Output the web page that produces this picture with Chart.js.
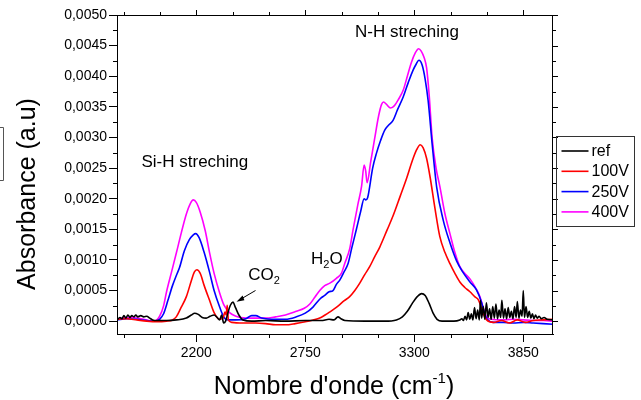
<!DOCTYPE html>
<html>
<head>
<meta charset="utf-8">
<title>FTIR Absorbance</title>
<script src="https://cdn.jsdelivr.net/npm/chart.js"></script>
<style>
  body { margin: 0; background: #fff; }
  #wrap { width: 641px; height: 400px; }
</style>
</head>
<body>
<div id="wrap"><canvas id="ftirChart" width="641" height="400"></canvas></div>
<script>
// axis ticks
const xTicks = [2200, 2750, 3300, 3850];
const yTicks = [0, 0.0005, 0.001, 0.0015, 0.002, 0.0025, 0.003, 0.0035, 0.004, 0.0045, 0.005];

const seriesNames = ['ref', '100V', '250V', '400V'];
const seriesColors = ['#000000', '#ff0000', '#0000ff', '#ff00ff'];

// [wavenumber, absorbance]
const ref = [
  [1800, 0.00002], [1815, 0.00006], [1825, 0.00004], [1835, 0.00009], [1845, 0.00005],
  [1855, 0.0001], [1865, 0.00006], [1875, 0.00009], [1885, 0.00007], [1895, 0.0001],
  [1905, 0.00007], [1920, 0.00009], [1935, 0.00007], [1950, 0.00008], [1965, 0.00005],
  [1980, 0.00002], [2000, 0.00001], [2050, 0.00001], [2100, 0.00002], [2150, 0.00005],
  [2175, 0.0001], [2192, 0.00013], [2210, 0.00011], [2230, 0.00006], [2250, 0.00005],
  [2270, 0.00008], [2290, 0.0001], [2305, 0.00006], [2318, 0.00002], [2328, 0.0001],
  [2338, -0.00003], [2348, 0.0], [2360, 0.00014], [2372, 0.00026], [2385, 0.00031],
  [2398, 0.00022], [2415, 0.0001], [2435, 0.00002], [2480, 0.0], [2550, 0.00001],
  [2650, 0.0], [2750, 0.00001], [2830, 0.00001], [2870, 0.00003], [2895, 0.00002],
  [2915, 0.00007], [2930, 0.00004], [2950, 0.00001], [3050, 0.0], [3150, 0.0],
  [3210, 0.00002], [3240, 0.00007], [3265, 0.00016], [3290, 0.00029], [3315, 0.0004],
  [3337, 0.00045], [3355, 0.00042], [3375, 0.00029], [3395, 0.00013], [3415, 0.00003],
  [3440, 0.0], [3500, 0.0], [3530, 0.00002], [3540, 0.00004], [3548, 0.00001],
  [3556, 0.00008], [3564, 0.00002], [3572, 0.00014], [3580, 0.00003], [3588, 0.00012],
  [3596, 0.00002], [3604, 0.00022], [3612, 0.00004], [3620, 0.00018], [3628, 0.00002],
  [3634, 0.00034], [3640, 0.00005], [3648, 0.00024], [3656, 0.00003], [3664, 0.0003],
  [3672, 0.00006], [3680, 0.0002], [3688, 0.00003], [3696, 0.00024], [3704, 0.00005],
  [3712, 0.00028], [3720, 0.00004], [3728, 0.00018], [3736, 0.00006], [3742, 0.00034],
  [3750, 0.00005], [3758, 0.0002], [3766, 0.00004], [3774, 0.00022], [3782, 0.00006],
  [3790, 0.00016], [3798, 0.00004], [3806, 0.00024], [3814, 0.00006], [3820, 0.00032],
  [3828, 0.00005], [3836, 0.00018], [3844, 0.00008], [3850, 0.0005], [3856, 0.00006],
  [3864, 0.00024], [3872, 0.00006], [3880, 0.00016], [3888, 0.00005], [3896, 0.00012],
  [3904, 0.00004], [3912, 0.0001], [3920, 0.00005], [3930, 0.00008], [3940, 0.00004],
  [3955, 0.00006], [3970, 0.00003], [4000, 0.00002]
];

const v100 = [
  [1800, 0.00003], [1850, 0.00004], [1900, 0.00002], [1950, 0.0], [2000, -0.00001],
  [2050, 0.0], [2080, 0.00002], [2099, 0.00007], [2120, 0.0002], [2150, 0.0004],
  [2175, 0.00066], [2190, 0.0008], [2203, 0.00084], [2220, 0.00078], [2240, 0.00058],
  [2267, 0.00034], [2290, 0.00014], [2318, 0.00003], [2335, 0.00005], [2345, 0.00015],
  [2351, 0.0001], [2356, 0.00026], [2362, 0.00002], [2380, -0.00002], [2420, -0.00003],
  [2500, -0.00003], [2550, -0.00004], [2600, -0.00006], [2650, -0.00006], [2700, -0.00004],
  [2750, -0.00001], [2790, 0.00002], [2823, 0.00005], [2850, 0.0001], [2874, 0.00015],
  [2905, 0.00022], [2924, 0.00027], [2945, 0.00033], [2974, 0.0004], [3000, 0.0005],
  [3025, 0.00062], [3050, 0.00076], [3075, 0.00089], [3100, 0.00105], [3126, 0.00121],
  [3163, 0.00149], [3193, 0.00172], [3230, 0.00205], [3261, 0.00233], [3290, 0.00262],
  [3312, 0.0028], [3330, 0.00288], [3345, 0.00283], [3362, 0.00266], [3380, 0.00235],
  [3404, 0.00185], [3429, 0.00138], [3455, 0.00112], [3480, 0.00094], [3505, 0.00078],
  [3530, 0.00064], [3555, 0.00055], [3581, 0.00048], [3605, 0.0004], [3625, 0.00034],
  [3645, 0.00015], [3665, 0.00002], [3700, -0.00002], [3740, 0.00001], [3780, -0.00003],
  [3820, 0.00002], [3860, -0.00002], [3900, 0.00001], [3950, 0.00002], [4000, 0.00003]
];

const v250 = [
  [1800, 0.00002], [1850, 0.00004], [1900, 0.00003], [1950, 0.00001], [1990, 0.0],
  [2015, 0.00003], [2035, 0.00012], [2057, 0.00034], [2080, 0.00058], [2100, 0.00075],
  [2116, 0.00088], [2140, 0.00115], [2165, 0.00133], [2185, 0.00141], [2197, 0.00143],
  [2215, 0.00136], [2240, 0.00112], [2267, 0.0008], [2290, 0.0005], [2318, 0.00023],
  [2340, 0.00006], [2360, 0.00002], [2400, 0.00002], [2450, 0.00004], [2480, 0.00009],
  [2500, 0.00009], [2530, 0.00005], [2600, 0.00003], [2650, 0.00003], [2705, 0.00007],
  [2750, 0.00013], [2789, 0.00023], [2815, 0.00033], [2830, 0.00038], [2848, 0.00042],
  [2870, 0.00048], [2890, 0.0005], [2907, 0.0006], [2924, 0.00067], [2945, 0.0008],
  [2966, 0.00094], [2985, 0.0012], [3008, 0.0015], [3030, 0.0018], [3047, 0.002],
  [3055, 0.00198], [3065, 0.00202], [3090, 0.0025], [3109, 0.00274], [3130, 0.00295],
  [3151, 0.00312], [3170, 0.0032], [3193, 0.00328], [3215, 0.00345], [3244, 0.00366],
  [3270, 0.0039], [3294, 0.0041], [3310, 0.0042], [3323, 0.00426], [3340, 0.00418],
  [3355, 0.00395], [3370, 0.0036], [3390, 0.0029], [3413, 0.00219], [3446, 0.00165],
  [3480, 0.00128], [3514, 0.00098], [3545, 0.0008], [3581, 0.00064], [3614, 0.00051],
  [3640, 0.0003], [3655, 0.00012], [3668, 0.00003], [3700, -0.00002], [3750, -0.00002],
  [3800, -0.00003], [3850, -0.00002], [3900, -0.00003], [3950, -0.00004], [4000, -0.00005]
];

const v400 = [
  [1800, 0.00003], [1830, 0.00005], [1870, 0.00006], [1920, 0.00004], [1960, 0.00001],
  [1990, 0.0], [2015, 0.00008], [2035, 0.00025], [2050, 0.00048], [2075, 0.0008],
  [2100, 0.00112], [2125, 0.00145], [2150, 0.00175], [2170, 0.00192], [2185, 0.00198],
  [2200, 0.00194], [2220, 0.00178], [2245, 0.00148], [2267, 0.00112], [2290, 0.00078],
  [2318, 0.00046], [2340, 0.00026], [2368, 0.00014], [2400, 0.00008], [2450, 0.00005],
  [2500, 0.00005], [2550, 0.00005], [2600, 0.00007], [2650, 0.0001], [2705, 0.00016],
  [2745, 0.00021], [2773, 0.00028], [2800, 0.0004], [2823, 0.0005], [2848, 0.00058],
  [2874, 0.00062], [2907, 0.0007], [2932, 0.00078], [2950, 0.00095], [2974, 0.00118],
  [2991, 0.00149], [3015, 0.0019], [3034, 0.0022], [3047, 0.00255], [3055, 0.00245],
  [3062, 0.00226], [3080, 0.0026], [3100, 0.00298], [3120, 0.00335], [3135, 0.00354],
  [3145, 0.00358], [3160, 0.00354], [3180, 0.00348], [3200, 0.00352], [3220, 0.00362],
  [3244, 0.00377], [3265, 0.004], [3285, 0.00422], [3305, 0.00438], [3322, 0.00445],
  [3335, 0.00441], [3350, 0.0043], [3362, 0.00414], [3375, 0.0037], [3390, 0.003],
  [3410, 0.0025], [3429, 0.0022], [3455, 0.00175], [3480, 0.00143], [3505, 0.00112],
  [3530, 0.00089], [3555, 0.00078], [3581, 0.00069], [3610, 0.00054], [3631, 0.0004],
  [3650, 0.0002], [3665, 0.00007], [3690, 0.00003], [3740, 0.00002], [3800, 0.00003],
  [3850, 0.00002], [3900, 0.00001], [3950, 0.00001], [4000, 0.0]
];

const FONT = "'Liberation Sans', Arial, sans-serif";
Chart.defaults.font.family = FONT;
Chart.defaults.color = '#000';

const toPoints = arr => arr.map(([x, y]) => ({ x, y }));
const allSeries = [ref, v100, v250, v400];

// frame, minor ticks, titles, annotations and legend box
const decorations = {
  id: 'decorations',
  afterDraw(chart) {
    const { ctx, chartArea: a, scales: { x, y } } = chart;
    ctx.save();
    ctx.strokeStyle = '#000';
    ctx.lineWidth = 1;
    ctx.strokeRect(a.left + 0.5, a.top + 0.5, a.right - a.left - 1, a.bottom - a.top);

    ctx.beginPath();
    // x minor ticks (thirds of the major step) + top mirror
    const xStep = xTicks[1] - xTicks[0];
    for (let v = xTicks[0] - xStep; v <= x.max; v += xStep / 3) {
      if (v < x.min) continue;
      const px = Math.round(x.getPixelForValue(v)) + 0.5;
      const major = xTicks.includes(Math.round(v));
      ctx.moveTo(px, a.bottom); ctx.lineTo(px, a.bottom + (major ? 8 : 4));
      ctx.moveTo(px, a.top); ctx.lineTo(px, a.top - (major ? 5 : 3));
    }
    // y minor ticks + right mirror
    const yStep = yTicks[1] - yTicks[0];
    for (let i = 0; i <= (yTicks.length - 1) * 2; i++) {
      const v = yTicks[0] + i * yStep / 2;
      const py = Math.round(y.getPixelForValue(v)) + 0.5;
      const major = i % 2 === 0;
      if (!major) { ctx.moveTo(a.left, py); ctx.lineTo(a.left - 4, py); }
      ctx.moveTo(a.right, py); ctx.lineTo(a.right + (major ? 5 : 3), py);
    }
    ctx.stroke();

    // axis titles
    ctx.fillStyle = '#000';
    ctx.textBaseline = 'alphabetic';
    ctx.textAlign = 'left';
    ctx.font = '25px ' + FONT;
    const t1 = "Nombre d'onde (cm", t3 = ')';
    const w1 = ctx.measureText(t1).width, w3 = ctx.measureText(t3).width;
    ctx.font = '15px ' + FONT;
    const w2 = ctx.measureText('-1').width;
    let tx = 334 - (w1 + w2 + w3) / 2;
    ctx.font = '25px ' + FONT;
    ctx.fillText(t1, tx, 394);
    ctx.font = '15px ' + FONT;
    ctx.fillText('-1', tx + w1, 383);
    ctx.font = '25px ' + FONT;
    ctx.fillText(t3, tx + w1 + w2, 394);

    ctx.save();
    ctx.translate(28.5, 194);
    ctx.rotate(-Math.PI / 2);
    ctx.textAlign = 'center';
    ctx.textBaseline = 'middle';
    ctx.fillText('Absorbance (a.u)', 0, 0);
    ctx.restore();

    // band labels
    ctx.font = '17px ' + FONT;
    ctx.fillText('N-H streching', 355, 36.5);
    ctx.fillText('Si-H streching', 141.5, 166.5);
    ctx.fillText('H', 311, 263.5);
    let hw = ctx.measureText('H').width;
    ctx.font = '11px ' + FONT;
    ctx.fillText('2', 311 + hw, 268);
    let sw = ctx.measureText('2').width;
    ctx.font = '17px ' + FONT;
    ctx.fillText('O', 311 + hw + sw, 263.5);
    ctx.fillText('CO', 248.3, 279.5);
    const cw = ctx.measureText('CO').width;
    ctx.font = '11px ' + FONT;
    ctx.fillText('2', 248.3 + cw, 284);

    // arrow to the CO2 band
    ctx.beginPath();
    ctx.moveTo(255.5, 290.5); ctx.lineTo(241, 299);
    ctx.stroke();
    ctx.beginPath();
    ctx.moveTo(236.5, 301.8); ctx.lineTo(242.6, 295.4); ctx.lineTo(244.4, 300.3);
    ctx.closePath(); ctx.fill();

    // legend box
    const lx = 556.5, ly = 136.5;
    ctx.strokeStyle = '#333';
    ctx.strokeRect(lx, ly, 78, 90);
    ctx.font = '16px ' + FONT;
    ctx.textBaseline = 'middle';
    chart.data.datasets.forEach((ds, i) => {
      const cy = 151 + i * 20.3;
      ctx.strokeStyle = ds.borderColor;
      ctx.lineWidth = 1.6;
      ctx.beginPath(); ctx.moveTo(561.5, cy); ctx.lineTo(588.5, cy); ctx.stroke();
      ctx.fillStyle = '#000';
      ctx.fillText(ds.label, 591.5, cy + 0.5);
    });

    // piece of a box cut by the left edge
    ctx.strokeStyle = '#555';
    ctx.lineWidth = 1;
    ctx.beginPath();
    ctx.moveTo(0, 127.5); ctx.lineTo(3.5, 127.5); ctx.lineTo(3.5, 180.5); ctx.lineTo(0, 180.5);
    ctx.stroke();
    ctx.restore();
  }
};

new Chart(document.getElementById('ftirChart').getContext('2d'), {
  type: 'line',
  data: {
    datasets: allSeries.map((s, i) => ({
      label: seriesNames[i],
      data: toPoints(s),
      borderColor: seriesColors[i],
      borderWidth: 1.6,
      pointRadius: 0,
      fill: false,
      cubicInterpolationMode: 'monotone'
    }))
  },
  options: {
    responsive: false,
    animation: false,
    layout: { padding: { left: 0, right: 88, top: 15, bottom: 0 } },
    plugins: { legend: { display: false }, tooltip: { enabled: false } },
    scales: {
      x: {
        type: 'linear',
        min: 1800,
        max: 4000,
        afterBuildTicks: s => { s.ticks = xTicks.map(v => ({ value: v })); },
        afterFit: s => { s.height = 66; },
        ticks: { font: { size: 14 }, padding: 3, callback: v => String(v) },
        grid: { drawOnChartArea: false, tickLength: 8, color: '#000' },
        border: { color: '#000' }
      },
      y: {
        min: -0.00021,
        max: 0.005,
        afterBuildTicks: s => { s.ticks = yTicks.map(v => ({ value: v })); },
        afterFit: s => { s.width = 117; },
        ticks: { font: { size: 14 }, padding: 2, callback: v => v.toFixed(4).replace('.', ',') },
        grid: { drawOnChartArea: false, tickLength: 8, color: '#000' },
        border: { color: '#000' }
      }
    }
  },
  plugins: [decorations]
});
</script>
</body>
</html>
